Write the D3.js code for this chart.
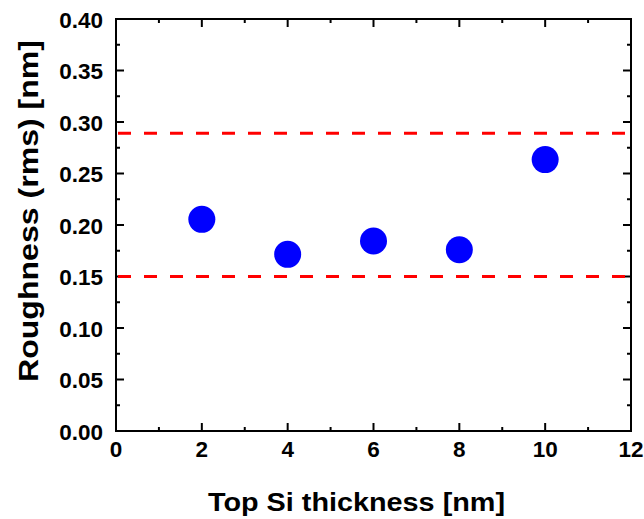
<!DOCTYPE html>
<html>
<head>
<meta charset="utf-8">
<script src="https://cdn.jsdelivr.net/npm/d3@7"></script>
<style>
  body { margin: 0; background: #fff; }
  text { font-family: "Liberation Sans", Arial, sans-serif; font-weight: bold; fill: #000; }
</style>
</head>
<body>
<div id="chart"></div>
<script>
const thickness  = [2, 4, 6, 8, 10];
const roughness  = [0.2055, 0.1715, 0.1845, 0.176, 0.2635];
const limitLines = [0.289, 0.150];
const xTicks     = [0, 2, 4, 6, 8, 10, 12];
const yTicks     = [0, 0.05, 0.10, 0.15, 0.20, 0.25, 0.30, 0.35, 0.40];

const width  = 644;
const height = 519;
const margin = { top: 19, right: 13, bottom: 88, left: 116 };
const w = width - margin.left - margin.right;
const h = height - margin.top - margin.bottom;

const x = d3.scaleLinear().domain([0, 12]).range([0, w]);
const y = d3.scaleLinear().domain([0, 0.40]).range([h, 0]);

const svg = d3.select("#chart").append("svg")
  .attr("width", width)
  .attr("height", height);

const g = svg.append("g")
  .attr("transform", "translate(" + margin.left + "," + margin.top + ")");

// minor ticks
const xMinor = d3.range(1, 12, 2);
const yMinor = d3.range(0.025, 0.40, 0.05);

function tickLines(sel, ticks, isX, len, side) {
  sel.selectAll(null).data(ticks).enter().append("line")
    .attr("x1", d => isX ? x(d) : (side ? w : 0))
    .attr("x2", d => isX ? x(d) : (side ? w - len : len))
    .attr("y1", d => isX ? (side ? 0 : h) : y(d))
    .attr("y2", d => isX ? (side ? len : h - len) : y(d))
    .attr("stroke", "#000")
    .attr("stroke-width", 2);
}

const ticksG = g.append("g");
tickLines(ticksG, xTicks, true, 8, false);
tickLines(ticksG, xTicks, true, 8, true);
tickLines(ticksG, xMinor, true, 4, false);
tickLines(ticksG, xMinor, true, 4, true);
tickLines(ticksG, yTicks, false, 8, false);
tickLines(ticksG, yTicks, false, 8, true);
tickLines(ticksG, yMinor, false, 4, false);
tickLines(ticksG, yMinor, false, 4, true);

// frame
g.append("rect")
  .attr("width", w)
  .attr("height", h)
  .attr("fill", "none")
  .attr("stroke", "#000")
  .attr("stroke-width", 2);

// tick labels
g.selectAll(".xl").data(xTicks).enter().append("text")
  .attr("x", d => x(d))
  .attr("y", h + 26)
  .attr("text-anchor", "middle")
  .style("font-size", "22.5px")
  .text(d => d);

g.selectAll(".yl").data(yTicks).enter().append("text")
  .attr("x", -13)
  .attr("y", d => y(d) + 8.5)
  .attr("text-anchor", "end")
  .style("font-size", "22.5px")
  .text(d => d.toFixed(2));

// dashed limit lines
g.selectAll(".lim").data(limitLines).enter().append("line")
  .attr("x1", x(0) + 2)
  .attr("x2", x(12) - 6)
  .attr("y1", d => y(d))
  .attr("y2", d => y(d))
  .attr("stroke", "#ff0000")
  .attr("stroke-width", 3)
  .attr("stroke-dasharray", "13,13");

// points
g.selectAll("circle").data(thickness).enter().append("circle")
  .attr("cx", d => x(d))
  .attr("cy", (d, i) => y(roughness[i]))
  .attr("r", 13.5)
  .attr("fill", "#0000ff");

// axis titles
svg.append("text")
  .attr("x", 356.5)
  .attr("y", 511)
  .attr("text-anchor", "middle")
  .attr("textLength", 297)
  .attr("lengthAdjust", "spacingAndGlyphs")
  .style("font-size", "25.5px")
  .text("Top Si thickness [nm]");

svg.append("text")
  .attr("transform", "translate(38,211) rotate(-90)")
  .attr("text-anchor", "middle")
  .attr("textLength", 342)
  .attr("lengthAdjust", "spacingAndGlyphs")
  .style("font-size", "27px")
  .text("Roughness (rms) [nm]");
</script>
</body>
</html>
